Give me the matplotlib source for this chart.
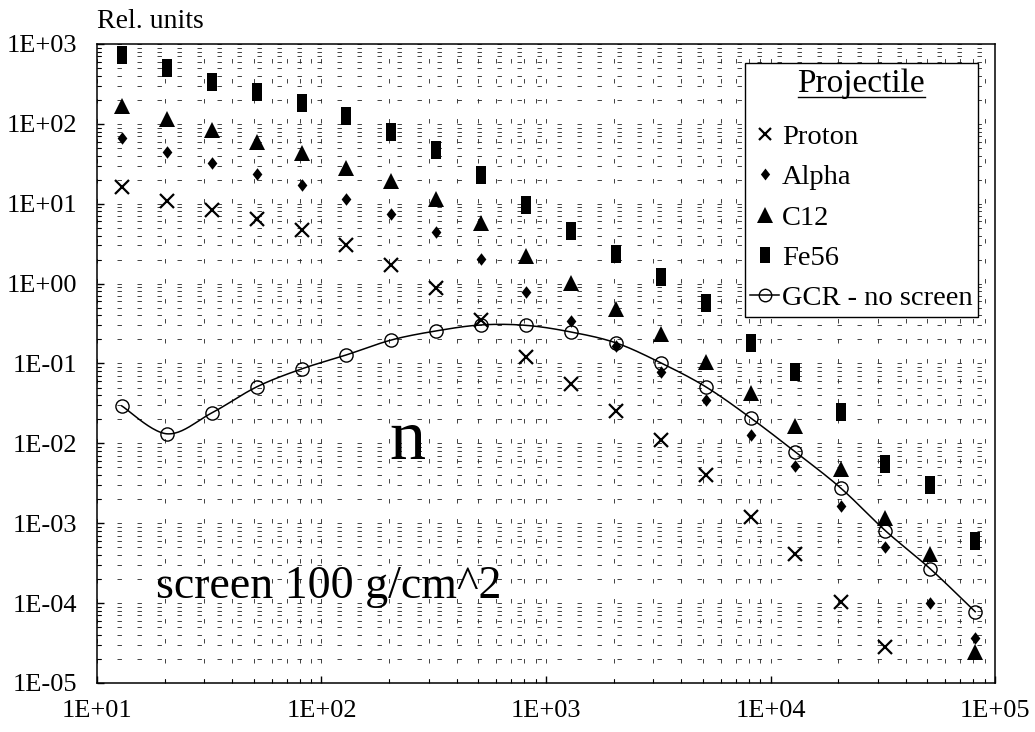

# plot.py
# Neutron yield behind a 100 g/cm^2 screen, by projectile (log-log scatter)
# ----------------------------------------

import numpy as np
import matplotlib
matplotlib.use("Agg")
import matplotlib.pyplot as plt
from matplotlib.lines import Line2D
from matplotlib.ticker import LogLocator, FuncFormatter, NullFormatter

# ── Data ──────────────────────────────────────────────────────────────────────
energy = [12.9, 20.5, 32.5, 51.5, 81.6, 129, 205, 325, 515, 816,
          1290, 2050, 3250, 5150, 8160, 12900, 20500, 32500, 51500, 81600]

proton = [16.2, 10.8, 8.4, 6.5, 4.7, 3.05, 1.71, 0.88, 0.35, 0.121,
          0.0556, 0.0255, 0.0111, 0.0040, 0.0012, 0.000414, 0.000104, 2.84e-5]

alpha = [66.5, 44.5, 32.4, 23.6, 17.2, 11.5, 7.4, 4.4, 2.04, 0.79,
         0.34, 0.166, 0.0785, 0.035, 0.0128, 0.0052, 0.00165, 0.000507, 0.000101, 3.68e-5]

c12 = [167, 115, 84, 59, 43, 28, 19.3, 11.5, 5.75, 2.22,
       1.02, 0.48, 0.234, 0.105, 0.0428, 0.0166, 0.0048, 0.00117, 0.000414, 2.45e-5]

fe56 = [728, 500, 334, 251, 183, 126, 79, 47, 23, 9.7,
        4.6, 2.36, 1.21, 0.573, 0.181, 0.0785, 0.0248, 0.00553, 0.00303, 0.000603]

gcr = [0.0294, 0.01316, 0.0241, 0.051, 0.0855, 0.128, 0.197, 0.256, 0.304, 0.30,
       0.248, 0.181, 0.1016, 0.051, 0.0208, 0.0078, 0.00277, 0.000804, 0.000268, 7.8e-5]

labels = ["Proton", "Alpha", "C12", "Fe56", "GCR - no screen"]


# ── Helpers ────────────────────────────────────────────────────────────────────

def smooth_curve(xs, ys, steps=24):
    """Excel-style smoothed line: Catmull-Rom through the points in log space."""
    lx = np.log10(xs)
    ly = np.log10(ys)
    px = np.concatenate([[lx[0]], lx, [lx[-1]]])
    py = np.concatenate([[ly[0]], ly, [ly[-1]]])
    t = np.linspace(0, 1, steps, endpoint=False)
    out_x, out_y = [], []
    for i in range(1, len(px) - 2):
        for p, out in ((px, out_x), (py, out_y)):
            p0, p1, p2, p3 = p[i - 1], p[i], p[i + 1], p[i + 2]
            out.extend(0.5 * (2 * p1 + (p2 - p0) * t
                              + (2 * p0 - 5 * p1 + 4 * p2 - p3) * t ** 2
                              + (-p0 + 3 * p1 - 3 * p2 + p3) * t ** 3))
    out_x.append(lx[-1])
    out_y.append(ly[-1])
    return 10 ** np.array(out_x), 10 ** np.array(out_y)


def sci_label(v, pos):
    return f"1E{int(round(np.log10(v))):+03d}"


# ── Figure ─────────────────────────────────────────────────────────────────────

plt.rcParams["font.family"] = ["Liberation Serif", "DejaVu Serif"]
plt.rcParams["lines.scale_dashes"] = False

fig = plt.figure(figsize=(10.35, 7.32), dpi=100)
ax = fig.add_axes([0.0937, 0.0670, 0.8677, 0.8729])

rect_marker = [(-0.28, -0.5), (0.28, -0.5), (0.28, 0.5), (-0.28, 0.5)]
diamond_marker = [(0, 0.5), (0.39, 0), (0, -0.5), (-0.39, 0)]

ax.plot(energy[:len(proton)], proton, ls="none", marker="x", ms=9.8,
        mew=1.6, color="black", label=labels[0], zorder=3)
ax.plot(energy, alpha, ls="none", marker=diamond_marker, ms=9.0,
        color="black", mew=0, label=labels[1], zorder=3)
ax.plot(energy, c12, ls="none", marker="^", ms=11.5,
        color="black", mew=0, label=labels[2], zorder=3)
ax.plot(energy, fe56, ls="none", marker=rect_marker, ms=12.5,
        color="black", mew=0, label=labels[3], zorder=3)

sx, sy = smooth_curve(energy, gcr)
ax.plot(sx, sy, color="black", lw=1.1, zorder=4)
ax.plot(energy, gcr, ls="none", marker="o", ms=9.5, mfc="none",
        mec="black", mew=1.0, zorder=5)
gcr_handle = Line2D([], [], color="black", lw=1.1, marker="o", ms=9.5,
                    mfc="none", mec="black", mew=1.0)

# Axes, scales, grid
ax.set_xscale("log")
ax.set_yscale("log")
ax.set_xlim(10, 1e5)
ax.set_ylim(1e-5, 1e3)

for axis in (ax.xaxis, ax.yaxis):
    axis.set_major_locator(LogLocator(base=10, numticks=20))
    axis.set_minor_locator(LogLocator(base=10, subs=np.arange(2, 10), numticks=20))
    axis.set_major_formatter(FuncFormatter(sci_label))
    axis.set_minor_formatter(NullFormatter())

ax.tick_params(which="major", direction="in", length=5, width=1.0,
               labelsize=19, colors="black")
ax.tick_params(which="minor", direction="in", length=3, width=0.8)
ax.tick_params(axis="y", which="major", pad=14)
ax.tick_params(axis="x", which="major", pad=12)

ax.grid(True, which="both", color="#222222", lw=0.6, ls=(0, (3.2, 11.2)))
for spine in ax.spines.values():
    spine.set_linewidth(1.1)
    spine.set_edgecolor("black")

# Annotations
ax.text(0.346, 0.351, "n", transform=ax.transAxes, fontsize=52,
        ha="center", va="baseline")
ax.text(0.066, 0.133, "screen 100 g/cm^2", transform=ax.transAxes,
        fontsize=33, ha="left", va="baseline")
fig.text(0.094, 0.962, "Rel. units", fontsize=20, ha="left", va="baseline")

# Legend
handles = ax.get_legend_handles_labels()[0] + [gcr_handle]
leg = ax.legend(handles, labels, title="Projectile", loc="upper right",
                bbox_to_anchor=(0.981, 0.970), borderaxespad=0,
                fontsize=20.5, title_fontsize=24, frameon=True, fancybox=False,
                framealpha=1, edgecolor="black", labelspacing=0.5,
                handlelength=1.0, handletextpad=0.1, borderpad=0.2,
                markerscale=0.95)
leg.get_frame().set_linewidth(1.0)
# extra room between the title and the first entry
leg._legend_box.sep = 18

# Underline the legend title
fig.canvas.draw()
tb = leg.get_title().get_window_extent()
inv = fig.transFigure.inverted()
(ux0, uy), (ux1, _) = inv.transform([(tb.x0, tb.y0 + 2), (tb.x1, tb.y0 + 2)])
fig.add_artist(Line2D([ux0, ux1], [uy, uy], transform=fig.transFigure,
                      color="black", lw=1.0))

fig.savefig("out.png", dpi=100)
